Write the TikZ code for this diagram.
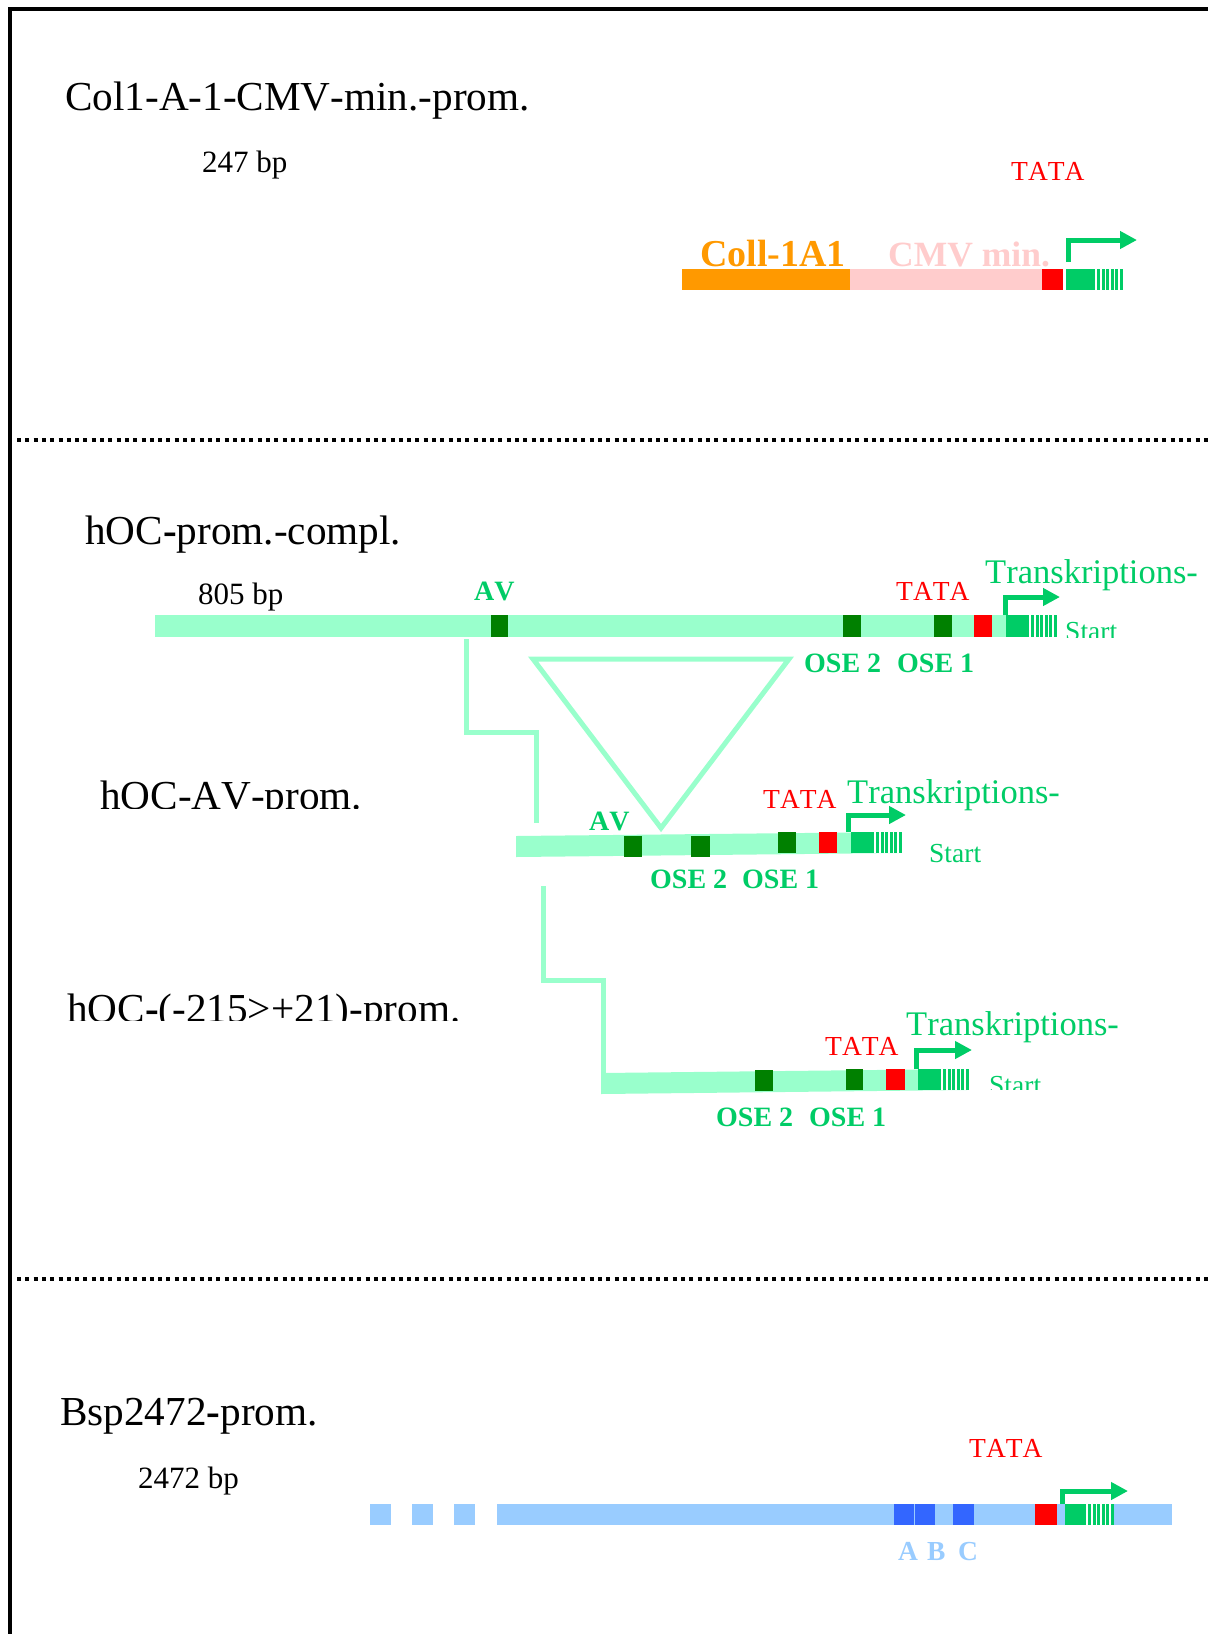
\documentclass[tikz,border=0pt]{standalone}
\usepackage{fontspec}
\setmainfont[Kerning=Off]{Liberation Serif}
\usetikzlibrary{arrows.meta}

\definecolor{collorange}{HTML}{FF9900}
\definecolor{cmvpink}{HTML}{FFCCCC}
\definecolor{tatared}{HTML}{FF0000}
\definecolor{tsgreen}{HTML}{00CC66}
\definecolor{hocgreen}{HTML}{99FFCC}
\definecolor{osegreen}{HTML}{008000}
\definecolor{bspblue}{HTML}{99CCFF}
\definecolor{boxblue}{HTML}{3366FF}

% start block with stripes: #1 left, #2 right of block, #3 top, #4 bottom
\newcommand{\tsblock}[4]{%
  \fill[white] (#2,#3) rectangle ({#2+28},#4);
  \fill[tsgreen] (#1,#3) rectangle (#2,#4);
  \foreach \i in {0,...,5}
    \fill[tsgreen] ({#2+2+4.5*\i},#3) rectangle ({#2+5+4.5*\i},#4);
}

\begin{document}
\begin{tikzpicture}[x=1pt,y=-1pt,line cap=butt,
  label/.style={inner sep=0pt,anchor=base west},
  title/.style={label,font=\fontsize{41.2}{41.2}\selectfont},
  bp/.style={label,font=\fontsize{31}{31}\selectfont},
  tata/.style={label,text=tatared,font=\fontsize{27.5}{27.5}\selectfont},
  trans/.style={label,text=tsgreen,font=\fontsize{34.5}{34.5}\selectfont},
  start/.style={label,text=tsgreen,font=\fontsize{27.5}{27.5}\selectfont},
  site/.style={label,text=tsgreen,font=\bfseries\fontsize{28}{28}\selectfont},
  abc/.style={label,text=bspblue,font=\bfseries\fontsize{27.5}{27.5}\selectfont},
  link/.style={draw=hocgreen,line width=5pt,line join=miter},
  tsarrow/.style={draw=tsgreen,line width=5pt,line join=miter,
    -{Triangle[length=17pt,width=17pt]}},
  sep/.style={line width=3.8pt,dash pattern=on 4pt off 4.3pt}]

  \useasboundingbox (0,0) rectangle (1208,1634);

  % frame and separators
  \draw[line width=4pt,line join=miter] (10,1634) -- (10,8.5) -- (1208,8.5);
  \draw[sep] (17,440) -- (1208,440);
  \draw[sep] (17,1279) -- (1208,1279);

  % Col1-A-1-CMV
  \node[title] (t0) at (65,110) {Col1-A-1-CMV-min.-prom.};
  \node[bp] (bp0) at (202,172) {247 bp};
  \node[tata] (tata0) at (1011,180) {TATA};
  \node[label,text=collorange,font=\bfseries\fontsize{38}{38}\selectfont]
    (coll) at (700,266) {Coll-1A1};
  \node[label,text=cmvpink,font=\bfseries\fontsize{35.5}{35.5}\selectfont]
    (cmv) at (888,266) {CMV min.};
  \fill[collorange] (682,269) rectangle (850,290);
  \fill[cmvpink] (850,269) rectangle (1042,290);
  \fill[tatared] (1042,269) rectangle (1063,290);
  \tsblock{1066}{1095}{269}{290}
  \coordinate (ts0) at (1068.5,262);
  \draw[tsarrow] (ts0) |- (1137,240);

  % hOC complete
  \node[title] (t1) at (85,544) {hOC\textbf{-}prom.-compl.};
  \node[bp] (bp1) at (198,604) {805 bp};
  \fill[hocgreen] (155,615) rectangle (1053,637);
  \fill[osegreen] (491,615) rectangle (508,637);
  \fill[osegreen] (843,615) rectangle (861,637);
  \fill[osegreen] (934,615) rectangle (952,637);
  \fill[tatared] (974,615) rectangle (992,637);
  \tsblock{1006}{1029}{615}{637}
  \coordinate (ts1) at (1005,615);
  \draw[tsarrow] (ts1) |- (1060,597);
  \node[site] (av1) at (474,600) {AV};
  \node[tata] (tata1) at (896,600) {TATA};
  \node[trans] (tr1) at (985,583) {Transkriptions-};
  \begin{scope}
    \clip (1060,600) rectangle (1130,637);
    \node[start] (st1) at (1065,640) {Start};
  \end{scope}
  \node[site] (ose21) at (804,672) {OSE 2};
  \node[site] (ose11) at (897,672) {OSE 1};

  % deletion links
  \coordinate (l1a) at (466,639);
  \coordinate (l1b) at (536,823);
  \draw[link] (l1a) -- ++(0,93) -| (l1b);
  \draw[link] (533,659) -- (789,659) -- (661,828) -- cycle;

  % hOC-AV
  \begin{scope}
    \clip (90,760) rectangle (380,808);
    \node[title] (t2) at (100,809) {hOC-AV-prom.};
  \end{scope}
  \fill[hocgreen] (516,836) -- (899,832) -- (899,853) -- (516,857) -- cycle;
  \fill[osegreen] (624,836) rectangle (642,857);
  \fill[osegreen] (691,836) rectangle (710,857);
  \fill[osegreen] (778,832) rectangle (796,853);
  \fill[tatared] (819,832) rectangle (837,853);
  \tsblock{851}{874}{832}{853}
  \coordinate (ts2) at (848,832);
  \draw[tsarrow] (ts2) |- (906,815);
  \node[site] (av2) at (589,830) {AV};
  \node[tata] (tata2) at (763,808) {TATA};
  \node[trans] (tr2) at (847,803) {Transkriptions-};
  \node[start] (st2) at (929,862) {Start};
  \node[site] (ose22) at (650,888) {OSE 2};
  \node[site] (ose12) at (742,888) {OSE 1};

  \coordinate (l2a) at (543,886);
  \coordinate (l2b) at (603,1073);
  \draw[link] (l2a) -- ++(0,94) -| (l2b);

  % hOC-(-215>+21)
  \begin{scope}
    \clip (55,970) rectangle (480,1020);
    \node[title] (t3) at (67,1022) {hOC\textbf{-}(-215>+21)-prom.};
  \end{scope}
  \fill[hocgreen] (601,1073) -- (967,1069) -- (967,1090) -- (601,1094) -- cycle;
  \fill[osegreen] (755,1070) rectangle (773,1091);
  \fill[osegreen] (846,1069) rectangle (863,1090);
  \fill[tatared] (886,1069) rectangle (905,1090);
  \tsblock{918}{941}{1069}{1090}
  \coordinate (ts3) at (916,1069);
  \draw[tsarrow] (ts3) |- (972,1050);
  \node[tata] (tata3) at (825,1055) {TATA};
  \node[trans] (tr3) at (906,1035) {Transkriptions-};
  \begin{scope}
    \clip (980,1060) rectangle (1060,1089);
    \node[start] (st3) at (989,1094) {Start};
  \end{scope}
  \node[site] (ose23) at (716,1126) {OSE 2};
  \node[site] (ose13) at (809,1126) {OSE 1};

  % Bsp2472
  \node[title] (t4) at (60,1425) {Bsp2472\textbf{-}prom.};
  \node[bp] (bp4) at (138,1488) {2472 bp};
  \node[tata] (tata4) at (969,1457) {TATA};
  \foreach \x in {370,412,454,497}
    \fill[bspblue] (\x,1504) rectangle ++(21,21);
  \fill[bspblue] (514,1504) rectangle (1172,1525);
  \fill[boxblue] (894,1504) rectangle (914,1525);
  \fill[boxblue] (915,1504) rectangle (935,1525);
  \fill[boxblue] (953,1504) rectangle (974,1525);
  \fill[tatared] (1035,1504) rectangle (1057,1525);
  \tsblock{1065}{1086}{1504}{1525}
  \coordinate (ts4) at (1062,1504);
  \draw[tsarrow] (ts4) |- (1128,1491);
  \node[abc] (boxa) at (898,1560) {A};
  \node[abc] (boxb) at (927,1560) {B};
  \node[abc] (boxc) at (958,1560) {C};
\end{tikzpicture}
\end{document}
